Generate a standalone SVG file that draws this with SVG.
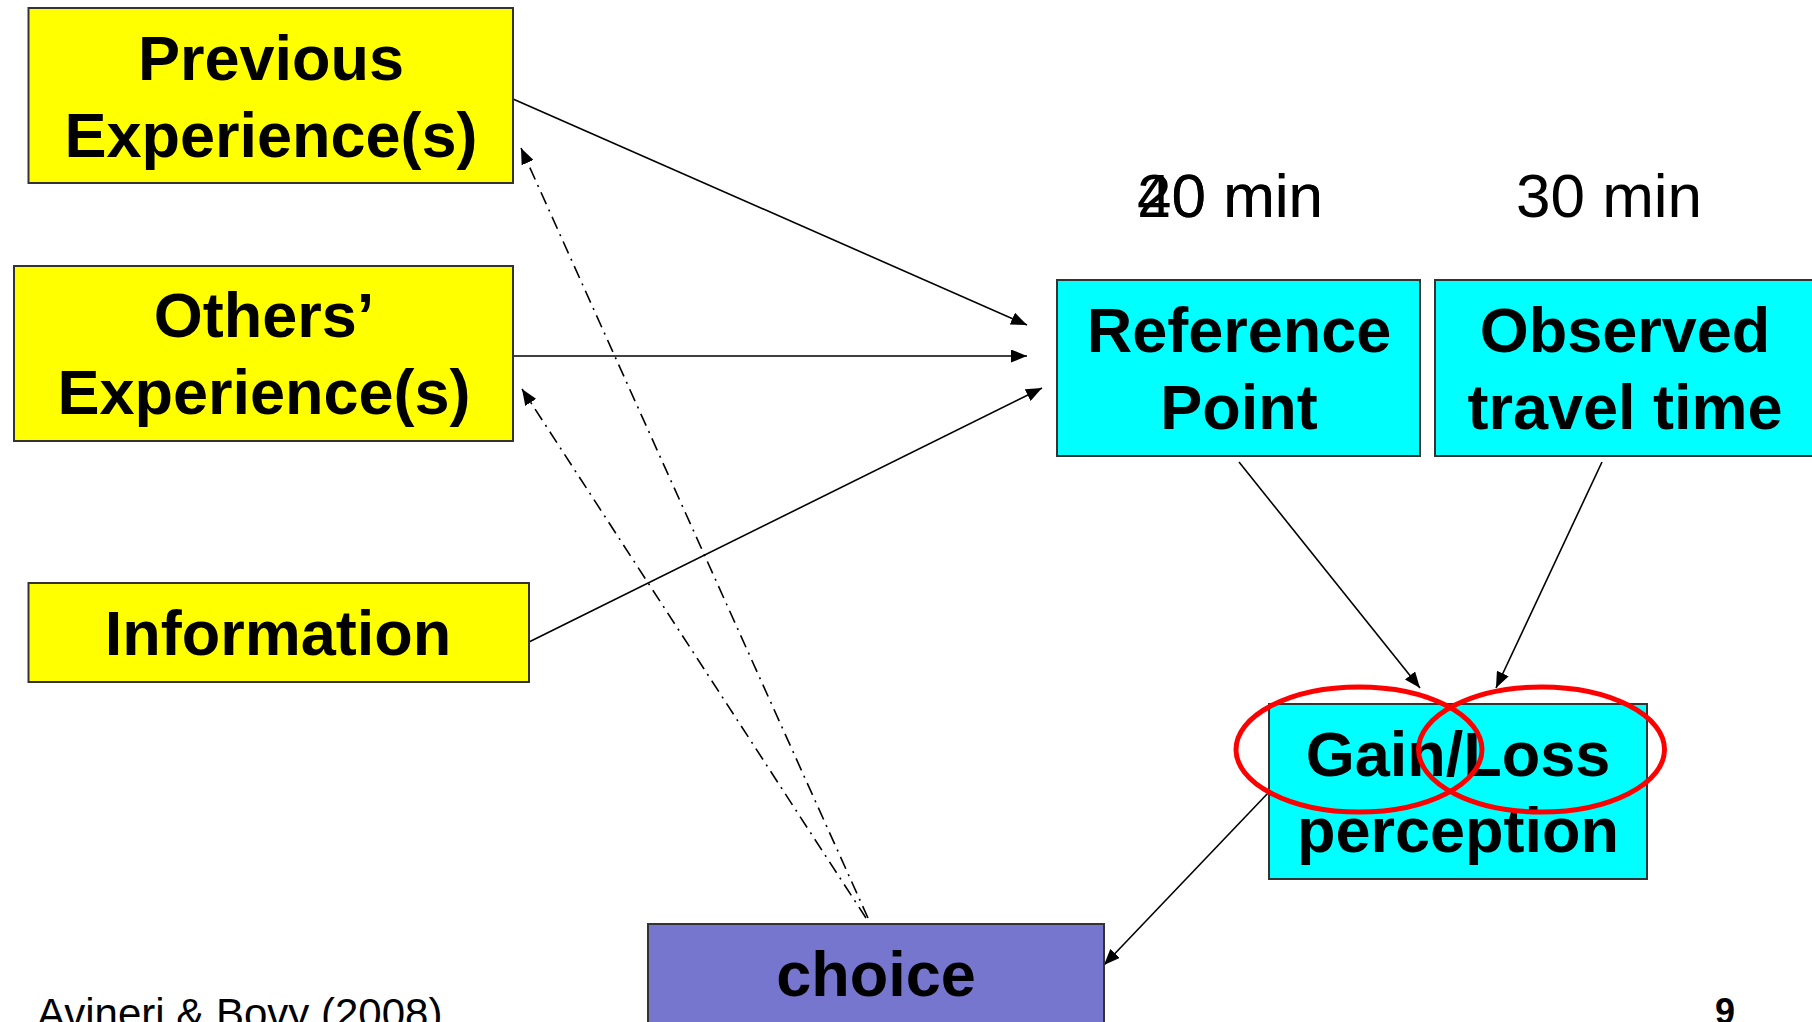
<svg xmlns="http://www.w3.org/2000/svg" width="1812" height="1022" viewBox="0 0 1812 1022">
<style>
.box{stroke:#333;stroke-width:2}
.y{fill:#FFFF00}
.c{fill:#00FFFF}
.p{fill:#7676CF}
.lbl{font-family:"Liberation Sans",Arial,sans-serif;font-weight:bold;font-size:63px;fill:#000;text-anchor:middle}
.min{font-family:"Liberation Sans",Arial,sans-serif;font-size:62px;fill:#000}
.con{stroke:#000;stroke-width:1.6;fill:none}
.dash{stroke-dasharray:13,6,2,6}
.ring{fill:none;stroke:#FF0000;stroke-width:5}
</style>
<defs>
<marker id="ah" markerUnits="userSpaceOnUse" markerWidth="16" markerHeight="13" refX="16" refY="6.5" orient="auto">
<path d="M0,0 L16,6.5 L0,13 z" fill="#000"/>
</marker>
</defs>
<rect width="1812" height="1022" fill="#fff"/>
<g id="connectors">
<line class="con" x1="513" y1="99" x2="1027" y2="325" marker-end="url(#ah)"/>
<line class="con" x1="513" y1="356" x2="1027" y2="356" marker-end="url(#ah)"/>
<line class="con" x1="529" y1="642" x2="1042" y2="388" marker-end="url(#ah)"/>
<line class="con" x1="1239" y1="462" x2="1420" y2="688" marker-end="url(#ah)"/>
<line class="con" x1="1602" y1="462" x2="1496" y2="688" marker-end="url(#ah)"/>
<line class="con" x1="1269" y1="792" x2="1104" y2="965" marker-end="url(#ah)"/>
<line class="con dash" x1="868" y1="918" x2="521" y2="148" marker-end="url(#ah)"/>
<line class="con dash" x1="866" y1="918" x2="522" y2="389" marker-end="url(#ah)"/>
</g>
<g id="previous">
<rect class="box y" x="28.5" y="8" width="484.5" height="175"/>
<text class="lbl" x="271" y="80">Previous</text>
<text class="lbl" x="271" y="157">Experience(s)</text>
</g>
<g id="others">
<rect class="box y" x="14" y="266" width="499" height="175"/>
<text class="lbl" x="264" y="337">Others’</text>
<text class="lbl" x="264" y="414">Experience(s)</text>
</g>
<g id="information">
<rect class="box y" x="28.5" y="583" width="500.5" height="99"/>
<text class="lbl" x="278" y="655">Information</text>
</g>
<g id="reference">
<rect class="box c" x="1057" y="280" width="363" height="176"/>
<text class="lbl" x="1239" y="352">Reference</text>
<text class="lbl" x="1239" y="429">Point</text>
</g>
<g id="observed">
<rect class="box c" x="1435" y="280" width="390" height="176"/>
<text class="lbl" x="1625" y="352">Observed</text>
<text class="lbl" x="1625" y="429">travel time</text>
</g>
<g id="gainloss">
<rect class="box c" x="1269" y="704" width="378" height="175"/>
<text class="lbl" x="1458" y="776">Gain/Loss</text>
<text class="lbl" x="1458" y="852">perception</text>
<ellipse class="ring" cx="1359" cy="749.5" rx="123" ry="62.5"/>
<ellipse class="ring" cx="1541.5" cy="749.5" rx="123" ry="62.5"/>
</g>
<g id="choice">
<rect class="box p" x="648" y="924" width="456" height="110"/>
<text class="lbl" x="876" y="996">choice</text>
</g>
<g id="times">
<text class="min" x="1137" y="217">20 min</text>
<text class="min" x="1137" y="217">40 min</text>
<text class="min" x="1516" y="217">30 min</text>
</g>
<text x="37" y="1028" font-family="Liberation Sans, Arial, sans-serif" font-size="42" fill="#000">Avineri &amp; Bovy (2008)</text>
<text x="1715" y="1024" font-family="Liberation Sans, Arial, sans-serif" font-size="36" font-weight="bold" fill="#000">9</text>
</svg>
